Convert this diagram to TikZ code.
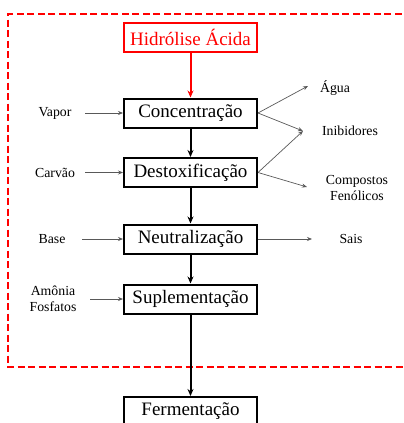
\documentclass[tikz,border=0pt]{standalone}
\usepackage{fontspec}
\setmainfont{Liberation Serif}
\usetikzlibrary{arrows.meta}

\tikzset{
  procbox/.style={draw, line width=2pt, fill=white, minimum width=133pt, minimum height=29pt, inner sep=0pt, font=\fontsize{19}{21}\selectfont},
  sidelabel/.style={font=\fontsize{13.8}{15.5}\selectfont, align=center},
  mainflow/.style={-{Stealth[length=7pt,width=6pt]}, line width=2pt},
  sideflow/.style={-{Stealth[length=5pt,width=4pt]}, line width=0.7pt, black!65},
}

\begin{document}
\begin{tikzpicture}[x=1pt, y=-1pt]
    \useasboundingbox (0,0) rectangle (404,423);
    \clip (0,0) rectangle (404,423);

    % Dashed frame round the treatment steps
    \draw[red, line width=2pt, dash pattern=on 7pt off 3.5pt] (412,14) -- (8,14) -- (8,367) -- (412,367);

    % Process steps
    \node[procbox, draw=red, text=red] (hidrolise) at (190.5,37) {Hidrólise Ácida};
    \node[procbox] (conc) at (190.5,113) {Concentração};
    \node[procbox] (destox) at (190.5,172.5) {Destoxificação};
    \node[procbox] (neutral) at (190.5,239) {Neutralização};
    \node[procbox] (suple) at (190.5,299) {Suplementação};
    \node[procbox] (ferment) at (190.5,411.5) {Fermentação};

    % Main flow
    \draw[mainflow, red] (hidrolise) -- (conc);
    \draw[mainflow] (conc) -- (destox);
    \draw[mainflow] (destox) -- (neutral);
    \draw[mainflow] (neutral) -- (suple);
    \draw[mainflow] (suple) -- (ferment);

    % Inputs (left)
    \node[sidelabel] (vapor) at (55,113) {Vapor};
    \node[sidelabel] (carvao) at (55,173) {Carvão};
    \node[sidelabel] (base) at (52,239) {Base};
    \node[sidelabel] (amonia) at (53,299) {Amônia\\Fosfatos};
    \coordinate (vapor-out) at (85,113);
    \coordinate (carvao-out) at (85,172.5);
    \coordinate (base-out) at (82,239);
    \coordinate (amonia-out) at (90,299);
    \draw[sideflow] (vapor-out) -- (conc);
    \draw[sideflow] (carvao-out) -- (destox);
    \draw[sideflow] (base-out) -- (neutral);
    \draw[sideflow] (amonia-out) -- (suple);

    % Outputs (right)
    \node[sidelabel] (agua) at (335,88) {Água};
    \node[sidelabel] (inib) at (350,131) {Inibidores};
    \node[sidelabel] (compostos) at (357,188) {Compostos\\Fenólicos};
    \node[sidelabel] (sais) at (351,239) {Sais};
    \coordinate (agua-in) at (308,86);
    \coordinate (inib-in) at (303,131);
    \coordinate (comp-in) at (307,187);
    \coordinate (sais-in) at (312,239);
    \draw[sideflow] (conc.east) -- (agua-in);
    \draw[sideflow] (conc.east) -- (inib-in);
    \draw[sideflow] (destox.east) -- (inib-in);
    \draw[sideflow] (destox.east) -- (comp-in);
    \draw[sideflow] (neutral.east) -- (sais-in);

\end{tikzpicture}
\end{document}
